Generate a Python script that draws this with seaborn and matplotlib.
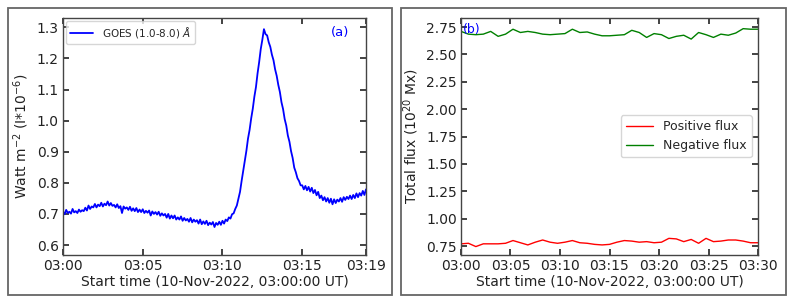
import numpy as np
import pandas as pd
import matplotlib
matplotlib.use("Agg")
import matplotlib.pyplot as plt
from matplotlib.patches import Rectangle
import seaborn as sns

# ---------------- data ----------------
# GOES 1.0-8.0 A flux, minutes after 03:00, 0.1-min cadence
goes_minutes = [round(i * 0.1, 1) for i in range(191)]
goes_flux = [
    0.708, 0.699, 0.713, 0.703, 0.707, 0.701, 0.716, 0.705, 0.709, 0.703,
    0.714, 0.707, 0.712, 0.709, 0.720, 0.711, 0.727, 0.716, 0.724, 0.721,
    0.732, 0.721, 0.730, 0.725, 0.736, 0.724, 0.733, 0.728, 0.740, 0.727,
    0.735, 0.726, 0.729, 0.721, 0.731, 0.719, 0.725, 0.703, 0.724, 0.717,
    0.721, 0.713, 0.723, 0.710, 0.718, 0.709, 0.719, 0.706, 0.714, 0.706,
    0.715, 0.703, 0.710, 0.704, 0.711, 0.695, 0.708, 0.700, 0.706, 0.698,
    0.707, 0.694, 0.702, 0.695, 0.700, 0.688, 0.700, 0.685, 0.695, 0.686,
    0.695, 0.682, 0.689, 0.682, 0.692, 0.678, 0.687, 0.679, 0.684, 0.675,
    0.687, 0.673, 0.682, 0.675, 0.680, 0.669, 0.682, 0.667, 0.676, 0.668,
    0.678, 0.664, 0.672, 0.666, 0.674, 0.658, 0.671, 0.665, 0.675, 0.665,
    0.678, 0.669, 0.682, 0.677, 0.689, 0.685, 0.699, 0.702, 0.716, 0.727,
    0.749, 0.771, 0.806, 0.838, 0.869, 0.903, 0.942, 0.970, 1.007, 1.038,
    1.077, 1.108, 1.152, 1.188, 1.230, 1.260, 1.294, 1.278, 1.274, 1.252,
    1.237, 1.212, 1.194, 1.165, 1.144, 1.115, 1.092, 1.059, 1.037, 1.005,
    0.984, 0.952, 0.932, 0.902, 0.880, 0.849, 0.834, 0.815, 0.806, 0.792,
    0.792, 0.779, 0.790, 0.776, 0.787, 0.772, 0.784, 0.767, 0.777, 0.760,
    0.771, 0.751, 0.759, 0.744, 0.754, 0.740, 0.751, 0.736, 0.749, 0.731,
    0.747, 0.735, 0.746, 0.740, 0.751, 0.739, 0.754, 0.745, 0.755, 0.748,
    0.759, 0.748, 0.761, 0.751, 0.766, 0.754, 0.767, 0.759, 0.774, 0.761,
    0.779,
]
goes_ticks = [0, 5, 10, 15, 19]
goes_ticklabels = ["03:00", "03:05", "03:10", "03:15", "03:19"]
goes_yticks = [0.6, 0.7, 0.8, 0.9, 1.0, 1.1, 1.2, 1.3]

# Magnetic flux, minutes after 03:00, 45-s cadence
flux_minutes = [round(i * 0.75, 2) for i in range(41)]
negative_flux = [
    2.710, 2.685, 2.680, 2.685, 2.710, 2.665, 2.685, 2.730, 2.700, 2.710,
    2.700, 2.685, 2.680, 2.685, 2.690, 2.730, 2.700, 2.705, 2.685, 2.670,
    2.670, 2.675, 2.680, 2.720, 2.700, 2.655, 2.690, 2.680, 2.645, 2.665,
    2.675, 2.640, 2.700, 2.680, 2.655, 2.685, 2.675, 2.695, 2.735, 2.730,
    2.730,
]
positive_flux = [
    0.770, 0.775, 0.745, 0.770, 0.770, 0.770, 0.775, 0.800, 0.780, 0.760,
    0.785, 0.805, 0.785, 0.775, 0.785, 0.800, 0.780, 0.775, 0.765, 0.760,
    0.765, 0.785, 0.800, 0.795, 0.785, 0.790, 0.780, 0.785, 0.820, 0.815,
    0.790, 0.810, 0.775, 0.820, 0.790, 0.795, 0.805, 0.805, 0.795, 0.780,
    0.780,
]
flux_ticks = [0, 5, 10, 15, 20, 25, 30]
flux_ticklabels = ["03:00", "03:05", "03:10", "03:15", "03:20", "03:25", "03:30"]
flux_yticks = [0.75, 1.00, 1.25, 1.50, 1.75, 2.00, 2.25, 2.50, 2.75]

# ---------------- style ----------------
sns.set_style("ticks")
plt.rcParams.update({
    "font.family": ["DejaVu Sans"],
    "font.size": 10,
    "xtick.direction": "in",
    "ytick.direction": "in",
    "xtick.top": True,
    "ytick.right": True,
    "xtick.major.size": 4,
    "ytick.major.size": 4,
    "xtick.major.width": 1.2,
    "ytick.major.width": 1.2,
    "axes.edgecolor": "#444444",
    "axes.linewidth": 1.0,
    "xtick.color": "#222222",
    "ytick.color": "#222222",
    "xtick.labelcolor": "#222222",
    "ytick.labelcolor": "#222222",
    "axes.labelcolor": "#222222",
})

fig = plt.figure(figsize=(7.93, 3.05), dpi=100)
W, H = 793.0, 305.0

def fx(px):
    return px / W

def fy(py):
    return 1 - py / H

# panel frames
for (x0, x1) in [(8, 392), (401, 786)]:
    fig.patches.append(Rectangle((fx(x0), fy(295)), fx(x1 - x0), (295 - 7.5) / H,
                                 transform=fig.transFigure, fill=False,
                                 edgecolor="#666666", linewidth=1.3))

ax1 = fig.add_axes([fx(63), fy(255), fx(366 - 63), (255 - 17.5) / H])
ax2 = fig.add_axes([fx(461), fy(255), fx(758 - 461), (255 - 17.5) / H])

# ---- panel (a)
df_goes = pd.DataFrame({"t": goes_minutes, "flux": goes_flux})
sns.lineplot(data=df_goes, x="t", y="flux", ax=ax1, color="blue", linewidth=1.3,
             label=r"GOES (1.0-8.0) $\AA$")
ax1.set_xlim(0, 19)
ax1.set_ylim(0.568, 1.3315)
ax1.set_xticks(goes_ticks)
ax1.set_xticklabels(goes_ticklabels)
ax1.set_yticks(goes_yticks)
ax1.set_xlabel("Start time (10-Nov-2022, 03:00:00 UT)", labelpad=1)
ax1.set_ylabel(r"Watt m$^{-2}$ (I*10$^{-6}$)", labelpad=4)
ax1.legend(loc="upper left", fontsize=7.5, frameon=True, handlelength=2.2,
           borderpad=0.4, borderaxespad=0.3)
ax1.text(0.915, 0.935, "(a)", transform=ax1.transAxes, color="blue", fontsize=9.5,
         ha="center", va="center")
ax1.tick_params(axis="both", pad=3)

# ---- panel (b)
df_flux = pd.DataFrame({
    "t": flux_minutes * 2,
    "value": positive_flux + negative_flux,
    "series": ["Positive flux"] * len(flux_minutes) + ["Negative flux"] * len(flux_minutes),
})
sns.lineplot(data=df_flux, x="t", y="value", hue="series", ax=ax2,
             palette={"Positive flux": "red", "Negative flux": "green"},
             linewidth=1.0)
ax2.set_xlim(0, 30)
ax2.set_ylim(0.668, 2.837)
ax2.set_xticks(flux_ticks)
ax2.set_xticklabels(flux_ticklabels)
ax2.set_yticks(flux_yticks)
ax2.set_xlabel("Start time (10-Nov-2022, 03:00:00 UT)", labelpad=1)
ax2.set_ylabel(r"Total flux (10$^{20}$ Mx)", labelpad=4)
ax2.legend(loc="center right", fontsize=9, frameon=True, title=None,
           handlelength=2.2, borderaxespad=0.5)
ax2.text(0.005, 0.975, "(b)", transform=ax2.transAxes, color="blue", fontsize=9,
         ha="left", va="top")
ax2.tick_params(axis="both", pad=3)

fig.savefig("out.png", dpi=100)
